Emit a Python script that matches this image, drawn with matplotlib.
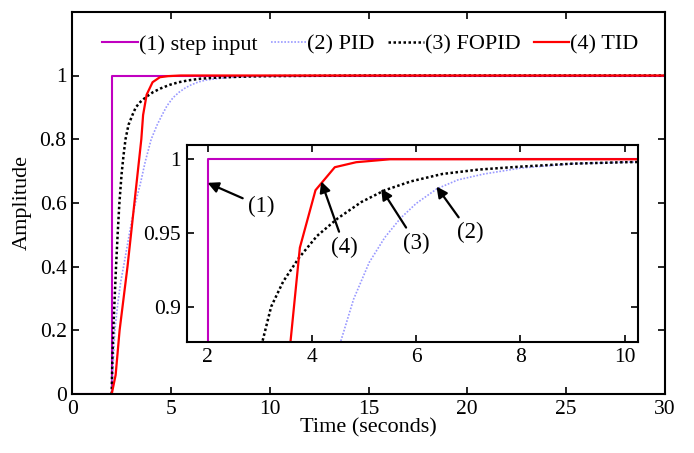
import matplotlib.pyplot as plt

plt.rcParams['font.family'] = ['Liberation Serif', 'DejaVu Serif']

# step input
t_step = [0, 2, 2, 30]
y_step = [0, 0, 1, 1]

# PID response
t_pid = [2.0, 2.08, 2.16, 2.3, 2.45, 2.6, 2.8, 3.0, 3.2, 3.45, 3.7, 4.0, 4.3, 4.55, 4.8,
         5.1, 5.4, 5.7, 6.0, 6.4, 6.8, 7.3, 8.0, 9.0, 10, 12, 15, 20, 30]
y_pid = [0.0, 0.1, 0.2, 0.28, 0.35, 0.4, 0.47, 0.54, 0.6, 0.66, 0.73, 0.8, 0.845, 0.876, 0.905,
         0.93, 0.947, 0.96, 0.97, 0.98, 0.986, 0.99, 0.994, 0.997, 0.998, 0.999, 1.0, 1.0, 1.0]

# FOPID response
t_fopid = [2.0, 2.03, 2.08, 2.15, 2.22, 2.3, 2.39, 2.5, 2.6, 2.7, 2.85, 3.05, 3.22, 3.45, 3.75,
           4.1, 4.5, 4.95, 5.4, 5.9, 6.5, 7.2, 8.0, 9.0, 10, 12, 15, 20, 30]
y_fopid = [0.0, 0.1, 0.2, 0.3, 0.4, 0.5, 0.6, 0.69, 0.75, 0.8, 0.845, 0.876, 0.9, 0.917, 0.933,
           0.948, 0.96, 0.971, 0.979, 0.985, 0.99, 0.993, 0.995, 0.997, 0.998, 0.999, 1.0, 1.0, 1.0]

# TID response
t_tid = [2.0, 2.2, 2.4, 2.8, 3.15, 3.5, 3.59, 3.77, 4.07, 4.44, 4.85, 5.5, 10, 30]
y_tid = [0.0, 0.06, 0.2, 0.4, 0.6, 0.8, 0.876, 0.94, 0.979, 0.9946, 0.998, 1.0, 1.0, 1.0]

labels = ['(1) step input', '(2) PID', '(3) FOPID', '(4) TID']

fig = plt.figure(figsize=(6.94, 4.53), dpi=100)
ax = fig.add_axes([0.104, 0.130, 0.854, 0.844])


def draw(a):
    a.plot(t_step, y_step, color='#c000c0', lw=1.5, label=labels[0])
    a.plot(t_pid, y_pid, color='#9999ff', lw=1.2, ls=(0, (1, 1)), label=labels[1])
    a.plot(t_fopid, y_fopid, color='black', lw=1.8, ls=(0, (1, 1)), label=labels[2])
    a.plot(t_tid, y_tid, color='red', lw=1.6, label=labels[3])


draw(ax)
ax.set_xlim(0, 30)
ax.set_ylim(0, 1.2)
ax.set_xticks([0, 5, 10, 15, 20, 25, 30])
ax.set_yticks([0, 0.2, 0.4, 0.6, 0.8, 1])
ax.set_yticklabels(['0', '0.2', '0.4', '0.6', '0.8', '1'])
ax.tick_params(direction='in', top=True, right=True, labelsize=15.5, length=5, width=1.2, pad=4)
for s in ax.spines.values():
    s.set_linewidth(1.5)
ax.set_xlabel('Time (seconds)', fontsize=16, labelpad=0)
ax.set_ylabel('Amplitude', fontsize=16, labelpad=6)
ax.legend(loc='center', ncol=4, frameon=False, fontsize=16, handlelength=1.6,
          handletextpad=0.05, columnspacing=0.6, bbox_to_anchor=(0.503, 0.914))

# inset zoom
axi = fig.add_axes([0.269, 0.245, 0.650, 0.435])
draw(axi)
axi.set_xlim(1.6, 10.25)
axi.set_ylim(0.876, 1.0097)
axi.set_xticks([2, 4, 6, 8, 10])
axi.set_yticks([0.9, 0.95, 1])
axi.set_yticklabels(['0.9', '0.95', '1'])
axi.tick_params(direction='in', top=True, right=True, labelsize=15.5, length=5, width=1.2, pad=4)
for s in axi.spines.values():
    s.set_linewidth(1.5)

arrow = dict(arrowstyle='-|>', color='black', lw=1.6, mutation_scale=16, shrinkA=2, shrinkB=0)
axi.annotate('(1)', xy=(2.0, 0.984), xytext=(3.03, 0.968), fontsize=16.5,
             ha='center', va='center', arrowprops=arrow)
axi.annotate('(4)', xy=(4.18, 0.985), xytext=(4.63, 0.940), fontsize=16.5,
             ha='center', va='center', arrowprops=arrow)
axi.annotate('(3)', xy=(5.33, 0.980), xytext=(6.0, 0.943), fontsize=16.5,
             ha='center', va='center', arrowprops=arrow)
axi.annotate('(2)', xy=(6.39, 0.9815), xytext=(7.03, 0.950), fontsize=16.5,
             ha='center', va='center', arrowprops=arrow)

fig.savefig('out.png', dpi=100)
